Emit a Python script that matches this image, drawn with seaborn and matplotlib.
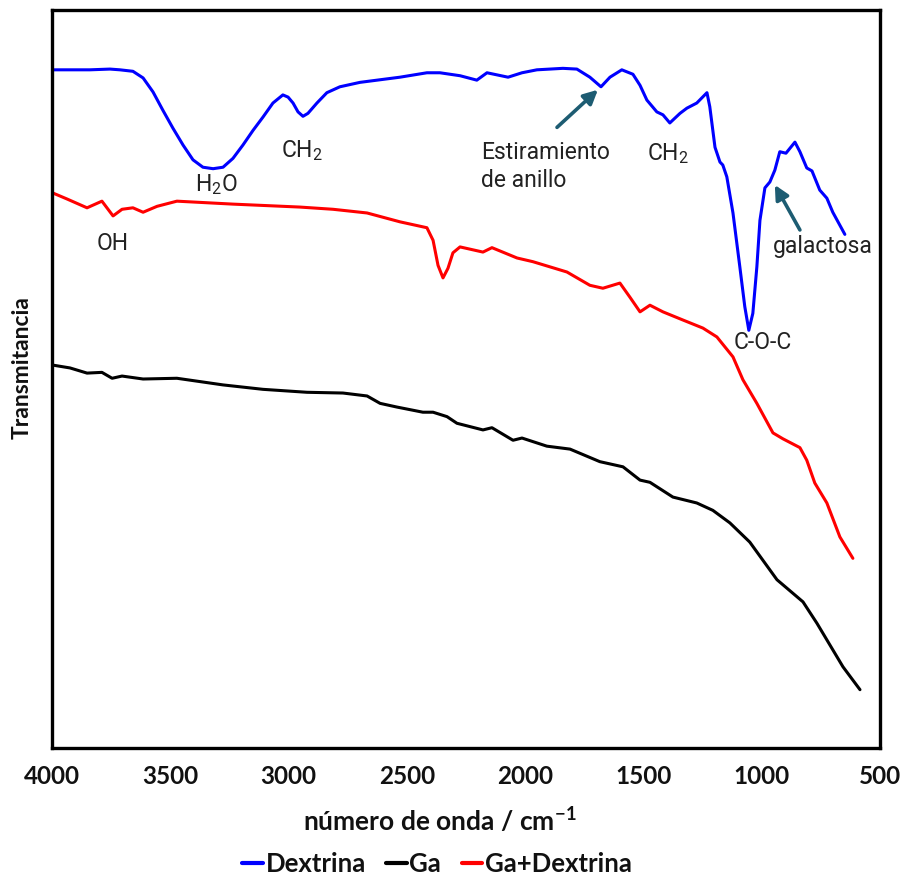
import numpy as np
import pandas as pd
import matplotlib
matplotlib.use("Agg")
import matplotlib.pyplot as plt
import seaborn as sns

# FTIR spectra: wavenumber (cm-1) and transmittance (arbitrary units, offset traces)
dextrina_wn = [4000, 3840, 3755, 3713, 3658, 3615, 3573, 3531, 3489, 3446,
               3404, 3362, 3319, 3277, 3235, 3193, 3150, 3108, 3066, 3024,
               3002, 2981, 2960, 2939, 2918, 2880, 2838, 2783, 2698, 2529,
               2415, 2360, 2275, 2204, 2161, 2072, 2013, 1950, 1840, 1781,
               1726, 1679, 1641, 1591, 1544, 1514, 1485, 1443, 1417, 1388,
               1345, 1316, 1274, 1231, 1219, 1197, 1176, 1164, 1147, 1121,
               1092, 1071, 1054, 1037, 1020, 1007, 986, 965, 944, 923,
               897, 859, 838, 809, 787, 754, 724, 699, 648]
dextrina_t = [91.9, 91.9, 92.0, 91.9, 91.7, 90.8, 88.9, 86.4, 84.0, 81.7,
              79.7, 78.7, 78.5, 78.7, 79.9, 81.7, 83.7, 85.5, 87.4, 88.5,
              88.2, 87.4, 86.2, 85.6, 86.0, 87.4, 88.8, 89.6, 90.2, 90.9,
              91.5, 91.5, 91.1, 90.5, 91.5, 90.9, 91.5, 91.9, 92.1, 92.0,
              90.9, 89.6, 90.9, 91.9, 91.3, 89.8, 87.8, 86.2, 85.8, 84.7,
              86.0, 86.7, 87.4, 88.8, 86.9, 81.4, 79.4, 79.0, 77.4, 72.5,
              65.2, 59.8, 56.6, 58.9, 65.2, 71.5, 75.9, 76.7, 78.3, 80.8,
              80.6, 82.1, 80.8, 78.6, 78.2, 75.6, 74.5, 72.6, 69.6]

ga_wn = [4000, 3924, 3852, 3789, 3746, 3704, 3615, 3472, 3277, 3108, 2922, 2770, 2668,
         2613, 2542, 2432, 2389, 2330, 2288, 2178, 2140, 2051, 2013, 1908, 1810, 1684,
         1586, 1514, 1472, 1375, 1274, 1206, 1134, 1050, 935, 825, 766, 656, 584]
ga_t = [51.9, 51.5, 50.8, 50.9, 50.1, 50.4, 50.0, 50.1, 49.2, 48.6, 48.2, 48.1, 47.7,
        46.7, 46.2, 45.5, 45.5, 44.9, 44.0, 43.1, 43.4, 41.7, 42.0, 40.9, 40.5, 38.8,
        38.1, 36.3, 36.0, 34.0, 33.2, 32.2, 30.5, 27.9, 22.8, 19.8, 16.9, 11.0, 7.9]

mezcla_wn = [3996, 3937, 3852, 3789, 3742, 3704, 3658, 3615, 3556, 3472, 3235, 2952,
             2812, 2668, 2529, 2415, 2389, 2368, 2347, 2326, 2305, 2275, 2178, 2140,
             2034, 1967, 1823, 1726, 1671, 1599, 1557, 1514, 1472, 1417, 1333, 1248,
             1189, 1121, 1079, 1020, 952, 910, 838, 809, 775, 724, 669, 614]
mezcla_t = [75.2, 74.4, 73.2, 74.1, 72.1, 73.0, 73.2, 72.6, 73.4, 74.1, 73.7, 73.3,
            73.0, 72.5, 71.3, 70.5, 68.8, 65.4, 63.7, 65.0, 67.1, 67.9, 67.2, 67.8,
            66.4, 65.9, 64.5, 62.7, 62.3, 63.0, 61.1, 59.1, 60.0, 59.1, 58.0, 56.9,
            55.7, 53.0, 49.9, 46.7, 42.7, 41.9, 40.7, 39.0, 35.9, 33.2, 28.6, 25.7]

series_names = ["Dextrina", "Ga", "Ga+Dextrina"]
series_colors = ["#0000FF", "#000000", "#FF0000"]
x_ticks = [4000, 3500, 3000, 2500, 2000, 1500, 1000, 500]

df = pd.concat([
    pd.DataFrame({"wn": dextrina_wn, "T": dextrina_t, "muestra": "Dextrina"}),
    pd.DataFrame({"wn": ga_wn, "T": ga_t, "muestra": "Ga"}),
    pd.DataFrame({"wn": mezcla_wn, "T": mezcla_t, "muestra": "Ga+Dextrina"}),
])

sns.set_theme(style="white")
axis_font = ["Lato", "DejaVu Sans"]
note_font = ["Roboto", "DejaVu Sans"]
plt.rcParams["font.family"] = axis_font
plt.rcParams["mathtext.fontset"] = "custom"
plt.rcParams["mathtext.rm"] = "Roboto"
plt.rcParams["mathtext.bf"] = "Lato:bold"

fig = plt.figure(figsize=(9.08, 8.81), dpi=100)
ax = fig.add_axes([0.0573, 0.151, 0.9117, 0.8376])

sns.lineplot(data=df, x="wn", y="T", hue="muestra", hue_order=series_names,
             palette=dict(zip(series_names, series_colors)), estimator=None,
             sort=False, linewidth=2.2, ax=ax, legend=False)
for ln in ax.get_lines():
    ln.set_solid_joinstyle("round")
    ln.set_solid_capstyle("round")

ax.set_xlim(4000, 500)
ax.set_ylim(0, 100)
ax.set_xticks(x_ticks)
ax.set_xticklabels([str(t) for t in x_ticks], fontsize=17.5, fontweight="bold",
                   color="#111111")
ax.set_yticks([])
ax.tick_params(axis="x", direction="inout", length=12, width=1.0, color="#444444", pad=6)
for sp in ax.spines.values():
    sp.set_visible(True)
    sp.set_color("black")
    sp.set_linewidth(2.4)

ax.set_xlabel(r"número de onda / cm$^{\mathbf{-1}}$", fontsize=19, fontweight="bold",
              color="#111111")
ax.xaxis.set_label_coords(0.4686, -0.077)
ax.set_ylabel("Transmitancia", fontsize=16.5, fontweight="bold", color="#111111")
ax.yaxis.set_label_coords(-0.023, 0.516)

handles = [plt.Line2D([], [], color=c, lw=3) for c in series_colors]
leg = fig.legend(handles, series_names, loc="center", bbox_to_anchor=(437 / 908, 1 - 864 / 881),
                 ncol=3, frameon=False, handlelength=0.8, handletextpad=0.1, columnspacing=0.8,
                 prop={"family": axis_font, "weight": "bold", "size": 18.5})
for t in leg.get_texts():
    t.set_color("#111111")

# Band assignments
note_kw = dict(fontsize=16.5, color="#222222", family=note_font)
ax.text(3307, 76.3, r"H$_\mathrm{2}$O", ha="center", va="center", **note_kw)
ax.text(2943, 81.0, r"CH$_\mathrm{2}$", ha="center", va="center", **note_kw)
ax.text(3742, 68.4, "OH", ha="center", va="center", **note_kw)
ax.text(2187, 82.3, "Estiramiento\nde anillo", ha="left", va="top", linespacing=1.3, **note_kw)
ax.text(1396, 80.6, r"CH$_\mathrm{2}$", ha="center", va="center", **note_kw)
ax.text(995, 55.0, "C-O-C", ha="center", va="center", **note_kw)
ax.text(952, 67.9, "galactosa", ha="left", va="center", **note_kw)

arrow_kw = dict(arrowstyle="-|>,head_length=0.7,head_width=0.35", color="#1D5C72", lw=2.6,
                shrinkA=0, shrinkB=0)
ax.annotate("", xy=(1692, 89.2), xytext=(1865, 84.1), arrowprops=arrow_kw)
ax.annotate("", xy=(944, 76.3), xytext=(838, 70.2), arrowprops=arrow_kw)

fig.savefig("out.png", dpi=100, facecolor="white")
